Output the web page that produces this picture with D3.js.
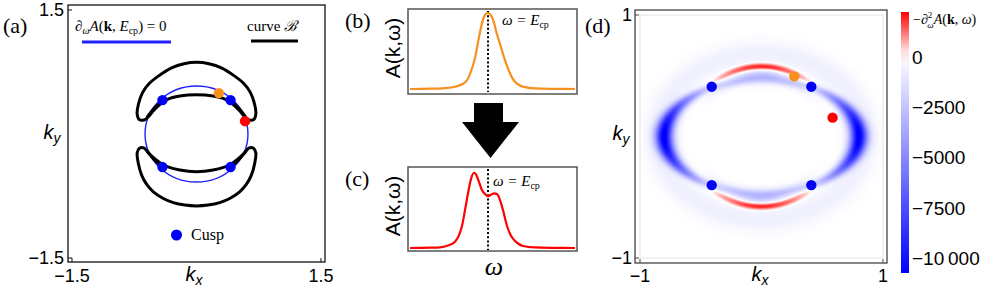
<!DOCTYPE html>
<html><head><meta charset="utf-8">
<script src="https://cdn.jsdelivr.net/npm/d3@7"></script>
<style>body{margin:0;background:#fff} svg{display:block}</style>
</head><body>
<svg id="c" width="997" height="289"></svg>
<script>
// ---------------- data ----------------
const cuspX = [-0.41, 0.41, -0.41, 0.41];
const cuspY = [0.41, 0.41, -0.40, -0.40];
const orangePt = [0.27, 0.495];
const redPt = [0.585, 0.155];
const blueCurve = [0.62, 0.58]; // ellipse semi-axes of d_w A = 0 curve

const topCrescentX = [-0.715,-0.70,-0.65,-0.57,-0.46,-0.30,-0.15,0,0.15,0.30,0.46,0.57,0.65,0.70,0.715,0.69,0.63,0.58,0.52,0.45,0.35,0.20,0,-0.20,-0.35,-0.45,-0.52,-0.58,-0.63,-0.69];
const topCrescentY = [0.24,0.36,0.50,0.61,0.70,0.80,0.85,0.867,0.85,0.80,0.70,0.61,0.50,0.36,0.24,0.175,0.17,0.21,0.28,0.35,0.42,0.46,0.475,0.46,0.42,0.35,0.28,0.21,0.17,0.175];
const botCrescentX = [-0.715,-0.70,-0.66,-0.60,-0.52,-0.40,-0.28,-0.14,0,0.14,0.28,0.40,0.52,0.60,0.66,0.70,0.715,0.69,0.63,0.58,0.50,0.40,0.20,0,-0.20,-0.40,-0.50,-0.58,-0.63,-0.69];
const botCrescentY = [-0.23,-0.36,-0.50,-0.61,-0.70,-0.78,-0.83,-0.86,-0.87,-0.86,-0.83,-0.78,-0.70,-0.61,-0.50,-0.36,-0.23,-0.175,-0.17,-0.23,-0.30,-0.375,-0.435,-0.456,-0.435,-0.375,-0.30,-0.23,-0.17,-0.175];
const spurX = [0.44, 0.52, 0.59];
const spurY = [0.375, 0.30, 0.21];
const quadSignX = [1, -1, 1, -1];
const quadSignY = [1, 1, -1, -1];

const omega = [-0.976,-0.74,-0.562,-0.444,-0.361,-0.302,-0.243,-0.207,-0.172,-0.136,-0.10,-0.059,-0.018,0.018,0.053,0.089,0.136,0.183,0.231,0.29,0.385,0.503,0.74,0.976];
const specB = [0,0.004,0.012,0.03,0.062,0.115,0.27,0.41,0.61,0.81,0.95,1.0,0.97,0.87,0.72,0.59,0.42,0.27,0.15,0.07,0.024,0.007,0.002,0];
const omegaC = [-0.976,-0.74,-0.621,-0.527,-0.444,-0.396,-0.361,-0.325,-0.29,-0.254,-0.219,-0.195,-0.16,-0.124,-0.089,-0.053,-0.018,0.018,0.053,0.089,0.124,0.172,0.219,0.278,0.361,0.503,0.74,0.976];
const specC = [0,0.004,0.009,0.033,0.083,0.17,0.29,0.5,0.72,0.91,0.99,0.97,0.87,0.76,0.71,0.68,0.70,0.72,0.71,0.63,0.5,0.29,0.16,0.08,0.026,0.007,0.002,0];
const Ecp = -0.053;

// heat-map ridges of -d^2_w A (ellipse semi-axes, amplitude, width, angular centre/spread/shape)
const bandRx = [0.80, 0.86, 0.62, 0.55];
const bandRy = [0.47, 0.68, 0.575, 0.49];
const bandAmp = [-10600, -650, 2400, -3000];
const bandWidth = [0.05, 0.075, 0.02, 0.037];
const bandAngle = [0, 90, 90, 90];
const bandSpread = [33, 1000, 23, 22];
const bandPower = [2, 2, 2, 2];
const bandTaper = [0.6, 0, 0, 0.3];

const cbTicks = [0, -2500, -5000, -7500, -10000];
const cbLabels = ["0", "\u22122500", "\u22125000", "\u22127500", "\u221210\u2009000"];
const cbDomain = [-10750, 0, 2240];
const ticksA = [-1.5, 1.5];
const ticksD = [-1, 1];

// ---------------- drawing ----------------
const svg = d3.select("#c");
const SANS = "'Liberation Sans', Arial, sans-serif";
const SERIF = "'Liberation Serif', 'DejaVu Serif', serif";

function frame(x0, y0, x1, y1, col, w) {
  svg.append("rect").attr("x", x0).attr("y", y0).attr("width", x1 - x0).attr("height", y1 - y0)
    .attr("fill", "none").attr("stroke", col).attr("stroke-width", w);
}
function panelLabel(t, x, y) {
  svg.append("text").attr("x", x).attr("y", y).attr("font-family", SERIF).attr("font-size", 22).text(t);
}
function kLabel(x, y, sub) {
  const t = svg.append("text").attr("x", x).attr("y", y).attr("font-family", SANS)
    .attr("font-style", "italic").attr("font-size", 20).attr("text-anchor", "middle");
  t.append("tspan").text("k");
  t.append("tspan").attr("font-size", 14).attr("dy", 4).text(sub);
}

// ===== Panel (a) =====
const xA = d3.scaleLinear([-1.5, 1.5], [72, 321]);
const yA = d3.scaleLinear([-1.5, 1.5], [258, 10]);
frame(68, 5, 325, 262, "#111", 1.3);
ticksA.forEach(v => {
  svg.append("line").attr("x1", xA(v)).attr("x2", xA(v)).attr("y1", 262).attr("y2", 258).attr("stroke", "#111");
  svg.append("line").attr("x1", 68).attr("x2", 72).attr("y1", yA(v)).attr("y2", yA(v)).attr("stroke", "#111");
  svg.append("text").attr("x", xA(v)).attr("y", 282).attr("text-anchor", "middle")
    .attr("font-family", SANS).attr("font-size", 18).text(d3.format("")(v));
  svg.append("text").attr("x", 64).attr("y", yA(v) + 6).attr("text-anchor", "end")
    .attr("font-family", SANS).attr("font-size", 18).text(d3.format("")(v));
});
panelLabel("(a)", 3, 33);
kLabel(194, 281, "x");
kLabel(52, 139, "y");

// blue curve
svg.append("ellipse").attr("cx", xA(0)).attr("cy", yA(0))
  .attr("rx", xA(blueCurve[0]) - xA(0)).attr("ry", yA(0) - yA(blueCurve[1]))
  .attr("fill", "none").attr("stroke", "#2020ff").attr("stroke-width", 1.4);

// curve B
const lineA = d3.line().x(d => xA(d[0])).y(d => yA(d[1])).curve(d3.curveCatmullRomClosed.alpha(0.5));
[[topCrescentX, topCrescentY], [botCrescentX, botCrescentY]].forEach(([X, Y]) => {
  svg.append("path").attr("d", lineA(X.map((x, i) => [x, Y[i]])))
    .attr("fill", "none").attr("stroke", "#000").attr("stroke-width", 3).attr("stroke-linejoin", "round");
});
const spurLine = d3.line().x(d => xA(d[0])).y(d => yA(d[1])).curve(d3.curveNatural);
quadSignX.forEach((sx, q) => {
  svg.append("path").attr("d", spurLine(spurX.map((x, i) => [sx * x, quadSignY[q] * spurY[i]])))
    .attr("fill", "none").attr("stroke", "#000").attr("stroke-width", 3).attr("stroke-linecap", "round");
});

// points
function dots(xs, ys, sx, sy, col, r) {
  xs.forEach((x, i) => svg.append("circle").attr("cx", sx(x)).attr("cy", sy(ys[i])).attr("r", r).attr("fill", col));
}
dots(cuspX, cuspY, xA, yA, "#0000f5", 5.2);
dots([orangePt[0]], [orangePt[1]], xA, yA, "#f7901e", 5.2);
dots([redPt[0]], [redPt[1]], xA, yA, "#ff0000", 5.2);

// legends in (a)
{
  const t = svg.append("text").attr("x", 75).attr("y", 31).attr("font-family", SERIF).attr("font-size", 15);
  t.append("tspan").attr("font-style", "italic").text("\u2202");
  t.append("tspan").attr("font-style", "italic").attr("font-size", 10).attr("dy", 3).text("\u03c9");
  t.append("tspan").attr("font-style", "italic").attr("dy", -3).text("A");
  t.append("tspan").text("(");
  t.append("tspan").attr("font-weight", "bold").text("k");
  t.append("tspan").text(", ");
  t.append("tspan").attr("font-style", "italic").text("E");
  t.append("tspan").attr("font-size", 10).attr("dy", 3).text("cp");
  t.append("tspan").attr("dy", -3).text(") = 0");
  svg.append("line").attr("x1", 82).attr("x2", 171).attr("y1", 42).attr("y2", 42).attr("stroke", "#2020ff").attr("stroke-width", 3);
  const t2 = svg.append("text").attr("x", 247).attr("y", 31).attr("font-family", SERIF).attr("font-size", 15);
  t2.append("tspan").text("curve ");
  t2.append("tspan").attr("font-style", "italic").text("\u212c");
  svg.append("line").attr("x1", 251).attr("x2", 298).attr("y1", 41).attr("y2", 41).attr("stroke", "#000").attr("stroke-width", 3);
  svg.append("circle").attr("cx", 176.5).attr("cy", 235).attr("r", 5.5).attr("fill", "#0000f5");
  svg.append("text").attr("x", 191).attr("y", 240).attr("font-family", SERIF).attr("font-size", 16).text("Cusp");
}

// ===== Panels (b), (c) =====
const xB = d3.scaleLinear([-1, 1], [408, 577]);
const yB = d3.scaleLinear([0, 1], [89, 13]);
const yC = d3.scaleLinear([0, 1], [248, 172]);
frame(408, 9, 577, 94, "#555", 1.5);
frame(408, 167, 577, 251, "#555", 1.5);
panelLabel("(b)", 345, 28);
panelLabel("(c)", 345, 186);
function aLabel(cy) {
  svg.append("text").attr("transform", `translate(400,${cy}) rotate(-90)`).attr("text-anchor", "middle")
    .attr("font-family", SANS).attr("font-size", 21).text("A(k,\u03c9)");
}
aLabel(48); aLabel(206);
svg.append("line").attr("x1", xB(Ecp)).attr("x2", xB(Ecp)).attr("y1", 11).attr("y2", 92)
  .attr("stroke", "#000").attr("stroke-width", 2).attr("stroke-dasharray", "2,2.2");
svg.append("line").attr("x1", xB(Ecp)).attr("x2", xB(Ecp)).attr("y1", 169).attr("y2", 250)
  .attr("stroke", "#000").attr("stroke-width", 2).attr("stroke-dasharray", "2,2.2");
svg.append("path").attr("d", d3.line().x((d, i) => xB(omega[i])).y(d => yB(d)).curve(d3.curveMonotoneX)(specB))
  .attr("fill", "none").attr("stroke", "#f7901e").attr("stroke-width", 2.2);
svg.append("path").attr("d", d3.line().x((d, i) => xB(omegaC[i])).y(d => yC(d)).curve(d3.curveMonotoneX)(specC))
  .attr("fill", "none").attr("stroke", "#ff0000").attr("stroke-width", 2.2);
function ecpLabel(x, y) {
  const t = svg.append("text").attr("x", x).attr("y", y).attr("font-family", SERIF).attr("font-size", 15);
  t.append("tspan").attr("font-style", "italic").text("\u03c9 = E");
  t.append("tspan").attr("font-size", 10).attr("dy", 3).text("cp");
}
ecpLabel(502, 25);
ecpLabel(493, 186);
svg.append("text").attr("x", 494).attr("y", 275).attr("text-anchor", "middle").attr("font-family", SERIF)
  .attr("font-style", "italic").attr("font-size", 26).text("\u03c9");
// arrow
svg.append("polygon").attr("points", "474,103 503,103 503,122 519,122 490.5,158 462,122 474,122").attr("fill", "#000");

// ===== Panel (d) =====
const xD = d3.scaleLinear([-1, 1], [640, 883]);
const yD = d3.scaleLinear([-1, 1], [258, 15]);
const color = d3.scaleLinear().domain(cbDomain).range(["#0000ff", "#ffffff", "#ff0000"]).clamp(true);
function field(kx, ky) {
  let s = 0;
  for (let i = 0; i < bandRx.length; i++) {
    const u = kx / bandRx[i], v = ky / bandRy[i];
    const rho = Math.hypot(u, v);
    const th = Math.atan2(Math.abs(v), Math.abs(u));
    const reff = Math.hypot(bandRx[i] * Math.cos(th), bandRy[i] * Math.sin(th));
    const d = (rho - 1) * reff;
    const thd = th * 180 / Math.PI;
    const ang = Math.exp(-0.5 * Math.pow(Math.abs(thd - bandAngle[i]) / bandSpread[i], bandPower[i]));
    const w = bandWidth[i] * (1 - bandTaper[i] + bandTaper[i] * ang);
    s += bandAmp[i] * Math.exp(-0.5 * (d / w) ** 2) * ang;
  }
  return s;
}
{
  const W = Math.round(xD(1) - xD(-1)), H = Math.round(yD(-1) - yD(1));
  const cv = document.createElement("canvas");
  cv.width = W; cv.height = H;
  const ctx = cv.getContext("2d");
  const img = ctx.createImageData(W, H);
  for (let j = 0; j < H; j++) {
    for (let i = 0; i < W; i++) {
      const kx = xD.invert(xD(-1) + i + 0.5), ky = yD.invert(yD(1) + j + 0.5);
      const c = d3.rgb(color(field(kx, ky)));
      const k = 4 * (j * W + i);
      img.data[k] = c.r; img.data[k + 1] = c.g; img.data[k + 2] = c.b; img.data[k + 3] = 255;
    }
  }
  ctx.putImageData(img, 0, 0);
  svg.append("image").attr("x", xD(-1)).attr("y", yD(1)).attr("width", W).attr("height", H)
    .attr("href", cv.toDataURL());
}
svg.append("rect").attr("x", xD(-1)).attr("y", yD(1)).attr("width", xD(1) - xD(-1)).attr("height", yD(-1) - yD(1))
  .attr("fill", "none").attr("stroke", "#e4e4e4").attr("stroke-width", 1);
frame(635, 10, 887, 263, "#444", 1.3);
ticksD.forEach(v => {
  svg.append("line").attr("x1", xD(v)).attr("x2", xD(v)).attr("y1", 263).attr("y2", 259).attr("stroke", "#444");
  svg.append("line").attr("x1", 635).attr("x2", 639).attr("y1", yD(v)).attr("y2", yD(v)).attr("stroke", "#444");
  svg.append("text").attr("x", xD(v)).attr("y", 282).attr("text-anchor", "middle")
    .attr("font-family", SANS).attr("font-size", 18).text(d3.format("")(v));
  svg.append("text").attr("x", 632).attr("y", yD(v) + 6).attr("text-anchor", "end")
    .attr("font-family", SANS).attr("font-size", 18).text(d3.format("")(v));
});
panelLabel("(d)", 585, 33);
kLabel(760, 281, "x");
kLabel(621, 140, "y");
dots(cuspX, cuspY, xD, yD, "#0000f5", 5.2);
dots([orangePt[0]], [orangePt[1]], xD, yD, "#f7901e", 5.2);
dots([redPt[0]], [redPt[1]], xD, yD, "#ff0000", 5.2);

// colour bar
const cbY = d3.scaleLinear([cbDomain[0], cbDomain[2]], [273, 12]);
const grad = svg.append("defs").append("linearGradient").attr("id", "cbg").attr("x1", 0).attr("x2", 0).attr("y1", 1).attr("y2", 0);
d3.range(0, 1.0001, 0.05).forEach(f => {
  const v = cbDomain[0] + f * (cbDomain[2] - cbDomain[0]);
  grad.append("stop").attr("offset", f).attr("stop-color", color(v));
});
svg.append("rect").attr("x", 901).attr("y", cbY(cbDomain[2])).attr("width", 8)
  .attr("height", cbY(cbDomain[0]) - cbY(cbDomain[2])).attr("fill", "url(#cbg)");
cbTicks.forEach((v, i) => {
  svg.append("text").attr("x", 912).attr("y", cbY(v) + 7).attr("font-family", SANS).attr("font-size", 19).text(cbLabels[i]);
});
{
  const t = svg.append("text").attr("x", 913).attr("y", 24).attr("font-family", SERIF).attr("font-size", 14);
  t.append("tspan").text("\u2212");
  t.append("tspan").attr("font-style", "italic").text("\u2202");
  t.append("tspan").attr("font-size", 9).attr("dy", -6).text("2");
  t.append("tspan").attr("font-size", 9).attr("font-style", "italic").attr("dx", -5).attr("dy", 10).text("\u03c9");
  t.append("tspan").attr("font-style", "italic").attr("dy", -4).text("A");
  t.append("tspan").text("(");
  t.append("tspan").attr("font-weight", "bold").text("k");
  t.append("tspan").text(", ");
  t.append("tspan").attr("font-style", "italic").text("\u03c9");
  t.append("tspan").text(")");
}
</script>
</body></html>
